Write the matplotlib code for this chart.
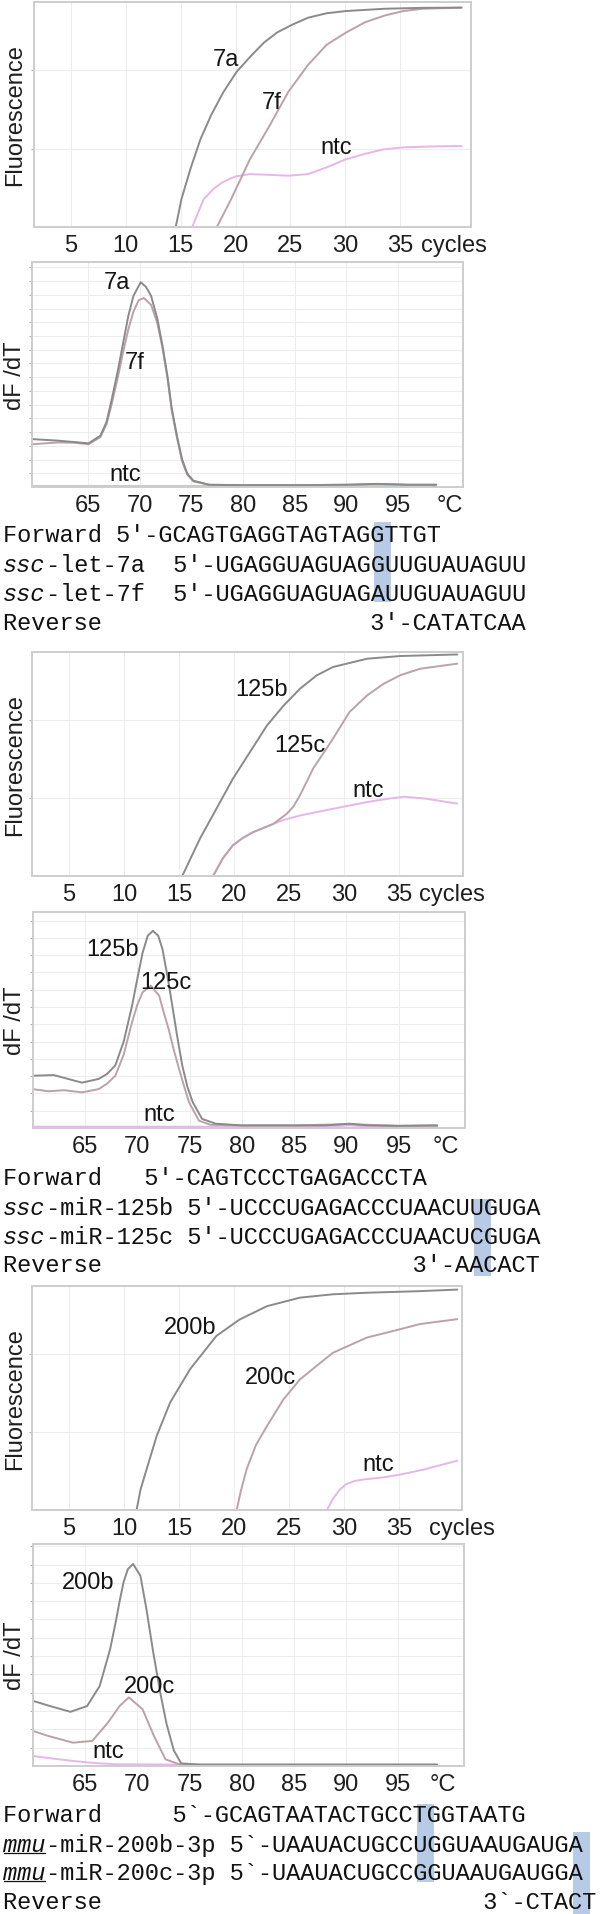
import matplotlib
matplotlib.use('Agg')
import matplotlib.pyplot as plt
import numpy as np
from matplotlib.patches import Rectangle
from matplotlib.lines import Line2D

W, H = 600, 1915
plt.rcParams['font.family'] = ['Liberation Sans', 'DejaVu Sans']
MONO = ['Liberation Mono', 'DejaVu Sans Mono']

# ---------------- amplification curves (cycle, relative fluorescence) ----------------
let7a_cyc = [14.55, 15.07, 15.9, 16.8, 17.8, 18.9, 20.1, 21.4, 22.6, 23.8, 25.2, 26.6, 28.3, 30.1, 33.6, 37.0, 40.6]
let7a_flu = [0.0, 0.124, 0.26, 0.39, 0.50, 0.60, 0.69, 0.76, 0.82, 0.865, 0.90, 0.93, 0.95, 0.96, 0.97, 0.974, 0.975]
let7f_cyc = [18.3, 19.6, 21.3, 23.1, 24.8, 26.6, 28.3, 30.1, 31.8, 33.6, 35.3, 37.1, 40.6]
let7f_flu = [0.0, 0.124, 0.30, 0.45, 0.60, 0.72, 0.81, 0.865, 0.91, 0.94, 0.96, 0.97, 0.975]
ntc1_cyc = [16.05, 17.1, 18.0, 18.85, 20.0, 21.3, 23.0, 24.8, 26.6, 28.3, 30.0, 31.8, 33.5, 35.3, 38.0, 40.6]
ntc1_flu = [0.0, 0.124, 0.17, 0.2, 0.225, 0.235, 0.232, 0.228, 0.235, 0.265, 0.30, 0.325, 0.345, 0.354, 0.358, 0.36]

mir125b_cyc = [15.3, 16.9, 18.4, 19.9, 21.45, 23.0, 24.5, 26.0, 27.5, 29.0, 32.1, 35.1, 40.3]
mir125b_flu = [0.0, 0.166, 0.30, 0.434, 0.553, 0.672, 0.76, 0.836, 0.895, 0.933, 0.97, 0.982, 0.989]
mir125c_cyc = [18.1, 19.0, 19.9, 20.8, 21.75, 22.7, 23.6, 24.8, 25.4, 26.0, 26.6, 27.2, 28.4, 29.0, 30.5, 32.1, 33.6, 35.1, 36.9, 40.3]
mir125c_flu = [0.0, 0.08, 0.137, 0.17, 0.196, 0.215, 0.233, 0.278, 0.31, 0.36, 0.42, 0.48, 0.568, 0.613, 0.732, 0.806, 0.858, 0.896, 0.925, 0.948]
ntc3_cyc = [18.1, 19.0, 19.9, 20.8, 21.75, 22.7, 23.6, 24.5, 26.0, 29.0, 32.1, 34.0, 35.5, 37.5, 40.3]
ntc3_flu = [0.0, 0.08, 0.137, 0.17, 0.196, 0.215, 0.233, 0.25, 0.27, 0.30, 0.33, 0.345, 0.354, 0.345, 0.323]

mir200b_cyc = [11.15, 11.5, 12.06, 12.97, 14.2, 16.0, 18.4, 20.5, 23.0, 26.0, 29.0, 32.1, 36.9, 40.3]
mir200b_flu = [0.0, 0.09, 0.182, 0.33, 0.48, 0.628, 0.777, 0.85, 0.91, 0.948, 0.963, 0.97, 0.977, 0.984]
mir200c_cyc = [20.25, 20.6, 21.15, 22.0, 23.0, 24.5, 26.0, 27.5, 29.0, 32.1, 35.1, 36.9, 40.3]
mir200c_flu = [0.0, 0.08, 0.182, 0.29, 0.375, 0.494, 0.583, 0.643, 0.702, 0.77, 0.807, 0.83, 0.852]
ntc5_cyc = [28.45, 29.0, 29.6, 30.2, 31.0, 31.9, 33.5, 35.1, 37.2, 40.3]
ntc5_flu = [0.0, 0.05, 0.09, 0.115, 0.13, 0.137, 0.145, 0.158, 0.18, 0.22]

# ---------------- melt curves (temperature, dF/dT) ----------------
let7a_tmp = [59.6, 62.1, 63.6, 65.05, 66.2, 66.8, 67.3, 67.9, 68.4, 68.9, 69.4, 70.1, 70.6, 71.1, 71.7, 72.2, 72.7, 73.1, 73.6, 74.1, 74.6, 75.2, 76.7, 80, 85, 90, 93, 96, 98.7]
let7a_dfd = [0.213, 0.206, 0.20, 0.194, 0.228, 0.29, 0.39, 0.52, 0.64, 0.76, 0.85, 0.91, 0.89, 0.85, 0.75, 0.63, 0.49, 0.35, 0.23, 0.124, 0.06, 0.028, 0.01, 0.008, 0.008, 0.01, 0.014, 0.01, 0.01]
let7f_tmp = [59.6, 62.1, 63.6, 65.05, 66.2, 66.8, 67.3, 67.9, 68.4, 68.9, 69.4, 69.9, 70.4, 71.1, 71.7, 72.2, 72.7, 73.1, 73.6, 74.1, 74.6, 75.2, 76.7, 80, 85, 90, 93, 96, 98.7]
let7f_dfd = [0.19, 0.198, 0.197, 0.19, 0.222, 0.28, 0.37, 0.49, 0.60, 0.70, 0.78, 0.83, 0.84, 0.81, 0.73, 0.62, 0.48, 0.34, 0.22, 0.115, 0.055, 0.025, 0.01, 0.008, 0.008, 0.01, 0.013, 0.01, 0.01]
ntc2_tmp = [59.6, 65, 70, 75, 80, 90, 98.7]
ntc2_dfd = [0.006, 0.006, 0.006, 0.006, 0.006, 0.006, 0.006]

mir125b_tmp = [60.0, 62.0, 64.7, 66.3, 67.1, 67.9, 68.7, 69.5, 70.0, 70.5, 71.0, 71.5, 72.0, 72.4, 72.9, 73.35, 73.8, 74.3, 74.8, 75.3, 76.2, 77.5, 80, 85, 88, 90.3, 92, 95, 98.7]
mir125b_dfd = [0.242, 0.245, 0.21, 0.227, 0.25, 0.29, 0.40, 0.566, 0.69, 0.81, 0.89, 0.913, 0.89, 0.83, 0.70, 0.566, 0.43, 0.29, 0.19, 0.12, 0.042, 0.02, 0.012, 0.012, 0.012, 0.02, 0.012, 0.01, 0.012]
mir125c_tmp = [60.0, 61.5, 63.0, 64.7, 66.3, 67.1, 67.9, 68.7, 69.5, 70.0, 70.5, 71.3, 72.1, 72.5, 73.0, 73.5, 74.0, 74.5, 74.95, 75.9, 77.0, 80, 85, 90.3, 95, 98.7]
mir125c_dfd = [0.18, 0.17, 0.175, 0.165, 0.18, 0.205, 0.242, 0.34, 0.49, 0.57, 0.628, 0.659, 0.612, 0.54, 0.458, 0.36, 0.273, 0.19, 0.119, 0.034, 0.015, 0.012, 0.012, 0.018, 0.01, 0.012]
ntc4_tmp = [60.0, 70, 80, 88, 90.3, 92, 98.7]
ntc4_dfd = [0.006, 0.006, 0.006, 0.006, 0.012, 0.006, 0.006]

mir200b_tmp = [60.05, 61.65, 63.6, 65.2, 66.4, 67.4, 67.9, 68.35, 68.7, 69.1, 69.6, 70.3, 70.9, 71.5, 72.2, 72.8, 73.5, 74.2, 76, 80, 85, 90, 95, 98.7]
mir200b_dfd = [0.293, 0.27, 0.244, 0.27, 0.36, 0.526, 0.64, 0.752, 0.83, 0.887, 0.91, 0.857, 0.70, 0.52, 0.33, 0.19, 0.07, 0.012, 0.006, 0.006, 0.006, 0.006, 0.006, 0.006]
mir200c_tmp = [60.0, 61.5, 63.85, 65.7, 67.2, 68.3, 69.2, 70.5, 71.6, 72.7, 74, 76, 80, 85, 90, 95, 98.7]
mir200c_dfd = [0.158, 0.135, 0.105, 0.113, 0.196, 0.27, 0.309, 0.256, 0.135, 0.03, 0.008, 0.006, 0.006, 0.006, 0.006, 0.006, 0.006]
ntc6_tmp = [60, 62, 64, 66, 67.9, 75, 85, 98.7]
ntc6_dfd = [0.045, 0.033, 0.022, 0.013, 0.008, 0.006, 0.006, 0.006]

cycle_ticks = [5, 10, 15, 20, 25, 30, 35]
temp_ticks = [65, 70, 75, 80, 85, 90, 95]

# ---------------- primer / miRNA sequences ----------------
seq_let7 = [('', 'Forward 5′-GCAGTGAGGTAGTAGGTTGT'),
            ('ssc', '-let-7a  5′-UGAGGUAGUAGGUUGUAUAGUU'),
            ('ssc', '-let-7f  5′-UGAGGUAGUAGAUUGUAUAGUU'),
            ('', 'Reverse' + ' ' * 19 + '3′-CATATCAA')]
seq_125 = [('', 'Forward   5′-CAGTCCCTGAGACCCTA'),
           ('ssc', '-miR-125b 5′-UCCCUGAGACCCUAACUUGUGA'),
           ('ssc', '-miR-125c 5′-UCCCUGAGACCCUAACUCGUGA'),
           ('', 'Reverse' + ' ' * 22 + '3′-AACACT')]
seq_200 = [('', 'Forward' + ' ' * 5 + '5`-GCAGTAATACTGCCTGGTAATG'),
           ('mmu', '-miR-200b-3p 5`-UAAUACUGCCUGGUAAUGAUGA'),
           ('mmu', '-miR-200c-3p 5`-UAAUACUGCCGGUAAUGAUGGA'),
           ('', 'Reverse' + ' ' * 27 + '3`-CTACT')]

# ---------------- style ----------------
C_B = '#8a8a8a'
C_C = '#bba2a8'
C_N = '#e6b6ea'
SPINE = '#cdcdcd'
GRID = '#ededed'
FS = 17

fig = plt.figure(figsize=(W / 100, H / 100), dpi=100)


def fx(x):
    return x / W


def fy(y):
    return 1 - y / H


def panel(l, t, r, b, xlim, ticks, unit, unit_pos, ystep, ylabel):
    ax = fig.add_axes([l / W, 1 - b / H, (r - l) / W, (b - t) / H])
    ax.set_xlim(*xlim)
    ax.set_ylim(0, 1)
    for v in ticks:
        ax.axvline(v, color=GRID, lw=0.8, zorder=0)
    ys = np.arange(ystep, 1.0, ystep)
    for v in ys:
        ax.axhline(v, color=GRID, lw=0.8, zorder=0)
    ax.set_xticks(list(ticks) + [unit_pos])
    ax.set_xticklabels([str(v) for v in ticks] + [unit], fontsize=FS, color='#1e1e1e')
    ax.set_yticks(ys)
    ax.set_yticklabels([])
    ax.tick_params(axis='x', length=0, pad=5)
    ax.tick_params(axis='y', length=2.5, width=0.8, color='#b0b0b0')
    for s in ax.spines.values():
        s.set_color(SPINE)
        s.set_linewidth(1.4)
    fig.text(fx(15), fy((t + b) / 2), ylabel, rotation=90, ha='center', va='center',
             fontsize=FS, color='#1e1e1e')
    return ax


def curves(ax, series, labels):
    for xs, ys, c in series:
        ax.plot(xs, ys, color=c, lw=1.4, solid_joinstyle='round', solid_capstyle='round', clip_on=True)
    for txt, x, y in labels:
        ax.text(x, y, txt, fontsize=FS, ha='center', va='center', color='#151515')


# panel 1: let-7 amplification
ax = panel(34, 3, 471, 228, (1.63, 41.46), cycle_ticks, 'cycles', 39.9, 0.348, 'Fluorescence')
curves(ax, [(ntc1_cyc, ntc1_flu, C_N), (let7f_cyc, let7f_flu, C_C), (let7a_cyc, let7a_flu, C_B)],
       [('7a', 19.1, 0.747), ('7f', 23.3, 0.554), ('ntc', 29.2, 0.354)])

# panel 2: let-7 melt
ax = panel(32, 263, 463, 488, (59.58, 101.29), temp_ticks, '°C', 100.0, 0.061, 'dF /dT')
curves(ax, [(ntc2_tmp, ntc2_dfd, C_N), (let7f_tmp, let7f_dfd, C_C), (let7a_tmp, let7a_dfd, C_B)],
       [('7a', 67.8, 0.91), ('7f', 69.55, 0.556), ('ntc', 68.6, 0.058)])

# panel 3: miR-125 amplification
ax = panel(32, 653, 463, 877, (1.64, 40.82), cycle_ticks, 'cycles', 39.8, 0.348, 'Fluorescence')
curves(ax, [(ntc3_cyc, ntc3_flu, C_N), (mir125c_cyc, mir125c_flu, C_C), (mir125b_cyc, mir125b_flu, C_B)],
       [('125b', 22.5, 0.836), ('125c', 26.0, 0.583), ('ntc', 32.2, 0.382)])

# panel 4: miR-125 melt
ax = panel(33, 913, 465, 1129, (60.02, 101.36), temp_ticks, '°C', 99.5, 0.08, 'dF /dT')
curves(ax, [(ntc4_tmp, ntc4_dfd, C_N), (mir125c_tmp, mir125c_dfd, C_C), (mir125b_tmp, mir125b_dfd, C_B)],
       [('125b', 67.6, 0.83), ('125c', 72.7, 0.675), ('ntc', 72.1, 0.065)])

# panel 5: miR-200 amplification
ax = panel(32, 1287, 462, 1511, (1.64, 40.73), cycle_ticks, 'cycles', 40.7, 0.348, 'Fluorescence')
curves(ax, [(ntc5_cyc, ntc5_flu, C_N), (mir200c_cyc, mir200c_flu, C_C), (mir200b_cyc, mir200b_flu, C_B)],
       [('200b', 16.0, 0.815), ('200c', 23.3, 0.592), ('ntc', 33.1, 0.204)])

# panel 6: miR-200 melt
ax = panel(33, 1545, 464, 1767, (60.02, 101.27), temp_ticks, '°C', 99.2, 0.0825, 'dF /dT')
curves(ax, [(ntc6_tmp, ntc6_dfd, C_N), (mir200c_tmp, mir200c_dfd, C_C), (mir200b_tmp, mir200b_dfd, C_B)],
       [('200b', 65.3, 0.827), ('200c', 71.2, 0.36), ('ntc', 67.2, 0.068)])

# ---------------- sequence blocks ----------------
PITCH = FS * 100 / 72 * 0.6
X0 = 3


def highlight(col, y0, y1):
    x = X0 + col * PITCH + 3
    fig.add_artist(Rectangle((fx(x), fy(y1)), 17 / W, (y1 - y0) / H, transform=fig.transFigure,
                             facecolor='#b7cbe7', edgecolor='none', zorder=0))


def block(lines, rows, underline=False):
    for (prefix, rest), yc in zip(lines, rows):
        base = fy(yc + 7)
        x = X0
        if prefix:
            fig.text(fx(x), base, prefix, family=MONO, style='italic', fontsize=FS,
                     ha='left', va='baseline', color='#111111')
            if underline:
                fig.add_artist(Line2D([fx(x + 1), fx(x + len(prefix) * PITCH - 1)], [fy(yc + 9)] * 2,
                                      transform=fig.transFigure, color='#111111', lw=0.9))
            x += len(prefix) * PITCH
        fig.text(fx(x), base, rest, family=MONO, fontsize=FS, ha='left', va='baseline', color='#111111')


highlight(26, 523, 603)
block(seq_let7, [535, 565, 594, 623])
highlight(33, 1200, 1277)
block(seq_125, [1178, 1208, 1237, 1265])
highlight(29, 1805, 1883)
highlight(40, 1833, 1915)
block(seq_200, [1815, 1845, 1873, 1902], underline=True)

fig.savefig('out.png', dpi=100)
